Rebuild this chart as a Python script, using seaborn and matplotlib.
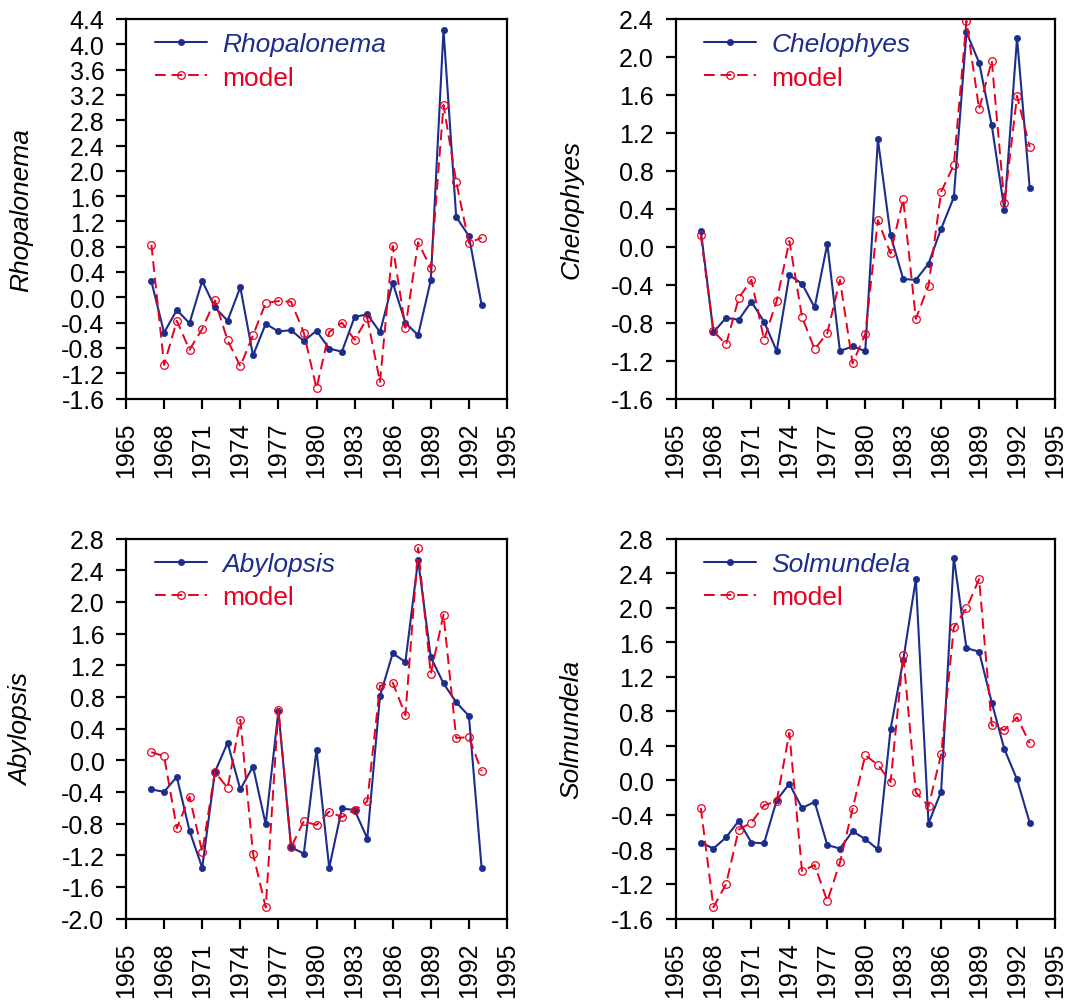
import matplotlib
matplotlib.use("Agg")
import matplotlib.pyplot as plt
import seaborn as sns
import numpy as np
import pandas as pd
from matplotlib.ticker import FormatStrFormatter, MultipleLocator

# ---------------- data ----------------
years = list(range(1967, 1994))

rhop_obs = [0.25, -0.56, -0.20, -0.41, 0.26, -0.16, -0.37, 0.16, -0.92, -0.42, -0.54, -0.52, -0.69, -0.53,
            -0.81, -0.86, -0.31, -0.27, -0.55, 0.23, -0.40, -0.60, 0.27, 4.23, 1.27, 0.97, -0.12]
rhop_mod = [0.83, -1.07, -0.37, -0.83, -0.50, -0.05, -0.68, -1.09, -0.60, -0.09, -0.06, -0.07, -0.56, -1.44,
            -0.55, -0.40, -0.67, -0.33, -1.34, 0.81, -0.48, 0.87, 0.46, 3.04, 1.83, 0.86, 0.94]

chel_obs = [0.17, -0.90, -0.75, -0.77, -0.58, -0.79, -1.10, -0.30, -0.39, -0.64, 0.03, -1.10, -1.05, -1.10,
            1.13, 0.12, -0.34, -0.35, -0.18, 0.19, 0.52, 2.26, 1.94, 1.28, 0.39, 2.20, 0.62]
chel_mod = [0.12, -0.89, -1.03, -0.54, -0.35, -0.98, -0.57, 0.06, -0.74, -1.08, -0.91, -0.35, -1.23, -0.92,
            0.28, -0.07, 0.50, -0.76, -0.41, 0.58, 0.86, 2.38, 1.45, 1.96, 0.46, 1.59, 1.05]

aby_obs = [-0.37, -0.40, -0.21, -0.89, -1.36, -0.15, 0.22, -0.37, -0.08, -0.81, 0.62, -1.10, -1.18, 0.13,
           -1.36, -0.61, -0.63, -0.99, 0.81, 1.35, 1.24, 2.53, 1.30, 0.97, 0.73, 0.56, -1.36]
aby_mod = [0.10, 0.05, -0.86, -0.46, -1.16, -0.15, -0.35, 0.51, -1.18, -1.86, 0.64, -1.10, -0.77, -0.82,
           -0.65, -0.72, -0.63, -0.52, 0.94, 0.98, 0.57, 2.68, 1.09, 1.84, 0.28, 0.29, -0.14]

solm_obs = [-0.72, -0.79, -0.66, -0.47, -0.72, -0.73, -0.23, -0.04, -0.32, -0.25, -0.75, -0.79, -0.59, -0.68,
            -0.80, 0.59, 1.39, 2.33, -0.50, -0.13, 2.58, 1.53, 1.49, 0.90, 0.36, 0.01, -0.49]
solm_mod = [-0.32, -1.47, -1.20, -0.57, -0.49, -0.29, -0.24, 0.55, -1.05, -0.98, -1.40, -0.95, -0.33, 0.29,
            0.18, -0.02, 1.45, -0.14, -0.30, 0.30, 1.77, 1.99, 2.33, 0.64, 0.58, 0.73, 0.43]

species = ["Rhopalonema", "Chelophyes", "Abylopsis", "Solmundela"]
observed = [rhop_obs, chel_obs, aby_obs, solm_obs]
modelled = [rhop_mod, chel_mod, aby_mod, solm_mod]
y_ranges = [(-1.6, 4.4), (-1.6, 2.4), (-2.0, 2.8), (-1.6, 2.8)]
x_ticks = list(range(1965, 1996, 3))

# ---------------- style ----------------
sns.set_style("ticks")
plt.rcParams["font.family"] = ["Liberation Sans", "DejaVu Sans"]
plt.rcParams["axes.unicode_minus"] = False

BLUE = "#1c2d8c"
RED = "#e8001f"

fig = plt.figure(figsize=(10.67, 10.03), dpi=100)
W, H = 1067, 1003
boxes = [(126, 20, 507, 399.5), (675.5, 20, 1055, 399.5),
         (126, 539.5, 507, 919.5), (675.5, 539.5, 1055, 919.5)]

for i in range(4):
    l, t, r, b = boxes[i]
    ax = fig.add_axes([l / W, 1 - b / H, (r - l) / W, (b - t) / H])
    df = pd.DataFrame({"year": years, "obs": observed[i], "mod": modelled[i]})
    sns.lineplot(data=df, x="year", y="obs", ax=ax, color=BLUE, linewidth=1.5,
                 marker="o", markersize=4.5, markeredgecolor=BLUE, markerfacecolor=BLUE,
                 markeredgewidth=0.5, label=species[i], errorbar=None)
    sns.lineplot(data=df, x="year", y="mod", ax=ax, color=RED, linewidth=1.4, linestyle="--",
                 marker="o", markersize=5.5, markeredgecolor=RED, markerfacecolor="none",
                 markeredgewidth=0.9, label="model", errorbar=None)
    ax.lines[-1].set_dashes((5.5, 3))

    lo, hi = y_ranges[i]
    ax.set_xlim(1965, 1995)
    ax.set_ylim(lo, hi)
    ax.set_xticks(x_ticks)
    ax.set_xticklabels([str(v) for v in x_ticks], rotation=90)
    ax.yaxis.set_major_locator(MultipleLocator(0.4))
    ax.yaxis.set_major_formatter(FormatStrFormatter("%.1f"))
    ax.set_ylim(lo, hi)
    ax.set_xlabel("")
    ax.set_ylabel(species[i], fontsize=19, fontstyle="italic", color="black")
    ax.yaxis.set_label_coords(-0.243, 0.5)

    for s in ax.spines.values():
        s.set_visible(True)
        s.set_linewidth(1.6)
        s.set_color("black")
    ax.tick_params(axis="both", direction="out", length=7.5, width=1.6, labelsize=18,
                   colors="black", top=False, right=False)
    ax.tick_params(axis="x", pad=9)
    ax.tick_params(axis="y", pad=8)
    ax.grid(False)

    leg = ax.legend(loc="upper left", bbox_to_anchor=(0.076, 0.965), frameon=False,
                    fontsize=19, handlelength=1.97, handletextpad=0.57, labelspacing=0.35,
                    borderaxespad=0, borderpad=0)
    txts = leg.get_texts()
    txts[0].set_color(BLUE)
    txts[0].set_fontstyle("italic")
    txts[1].set_color(RED)

fig.savefig("out.png", dpi=100, facecolor="white")
